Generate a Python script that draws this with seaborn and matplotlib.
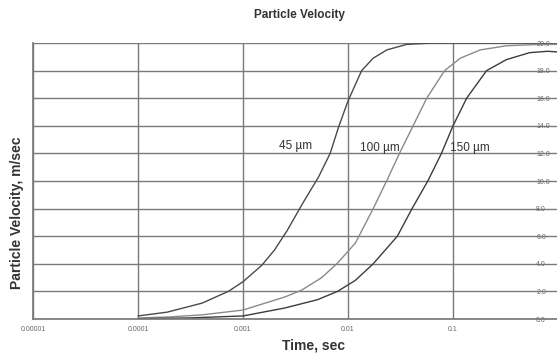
#!/usr/bin/env python3
"""Particle velocity vs time for three particle sizes."""

import matplotlib

matplotlib.use("Agg")
import matplotlib.pyplot as plt
import numpy as np
import pandas as pd
import seaborn as sns

# log10(time, sec) and velocity (m/sec)
t45 = [-4.0, -3.72, -3.39, -3.14, -3.0, -2.82, -2.70, -2.58, -2.43, -2.28, -2.17, -2.09, -2.0,
       -1.87, -1.76, -1.63, -1.44, -1.2, 0.0]
v45 = [0.22, 0.5, 1.15, 2.0, 2.7, 3.9, 5.0, 6.4, 8.4, 10.3, 12.0, 13.9, 15.8,
       18.0, 18.9, 19.5, 19.9, 20.0, 20.0]

t100 = [-4.0, -3.7, -3.39, -3.0, -2.6, -2.44, -2.25, -2.10, -1.93, -1.76, -1.62, -1.51, -1.38,
        -1.25, -1.08, -0.93, -0.74, -0.49, -0.17, 0.0]
v100 = [0.07, 0.15, 0.3, 0.65, 1.6, 2.1, 3.0, 4.05, 5.5, 8.0, 10.2, 12.0, 14.0,
        16.0, 18.0, 18.9, 19.5, 19.8, 19.9, 19.9]

t150 = [-4.0, -3.5, -3.0, -2.6, -2.29, -2.10, -1.93, -1.76, -1.53, -1.39, -1.24, -1.11, -1.0,
        -0.87, -0.68, -0.49, -0.27, -0.10, 0.0]
v150 = [0.02, 0.08, 0.22, 0.8, 1.4, 2.0, 2.8, 4.0, 6.0, 8.0, 10.0, 12.0, 14.0,
        16.0, 18.0, 18.8, 19.3, 19.4, 19.35]

sizes = ["45 µm", "100 µm", "150 µm"]
x_ticks = [0.00001, 0.0001, 0.001, 0.01, 0.1]
x_tick_labels = ["0.00001", "0.0001", "0.001", "0.01", "0.1"]
y_ticks = [0, 2, 4, 6, 8, 10, 12, 14, 16, 18, 20]


def build_frame() -> pd.DataFrame:
    parts = []
    for name, t, v in zip(sizes, [t45, t100, t150], [v45, v100, v150]):
        parts.append(pd.DataFrame({"time": 10 ** np.array(t), "velocity": v, "size": name}))
    return pd.concat(parts, ignore_index=True)


def main() -> None:
    df = build_frame()

    sns.set_theme(style="white")
    plt.rcParams["font.family"] = ["Liberation Sans", "DejaVu Sans"]

    fig = plt.figure(figsize=(5.57, 3.58), dpi=100)
    ax = fig.add_axes([33 / 557, 39 / 358, 524 / 557, 276 / 358])

    sns.lineplot(
        data=df,
        x="time",
        y="velocity",
        hue="size",
        hue_order=sizes,
        palette=["#4a4a4a", "#8a8a8a", "#3c3c3c"],
        linewidth=1.0,
        legend=False,
        ax=ax,
    )

    ax.set_xscale("log")
    ax.set_xlim(1e-5, 10 ** (-5 + 524 / 105))
    ax.set_ylim(0, 20)

    ax.set_xticks(x_ticks)
    ax.set_xticklabels(x_tick_labels)
    ax.xaxis.set_minor_locator(matplotlib.ticker.NullLocator())
    ax.set_yticks(y_ticks)
    ax.set_yticklabels([f"{v:.1f}" for v in y_ticks])

    ax.grid(True, which="major", color="#7a7a7a", linewidth=1.0)
    ax.set_axisbelow(True)
    for side in ["top", "right"]:
        ax.spines[side].set_visible(False)
    ax.spines["left"].set_color("#7a7a7a")
    ax.spines["bottom"].set_color("#7a7a7a")

    ax.tick_params(axis="x", length=0, pad=5, labelsize=5, labelcolor="#666666")
    ax.tick_params(
        axis="y", length=0, labelsize=5, labelcolor="#666666",
        labelleft=False, labelright=True, pad=-15,
    )

    ax.set_xlabel("")
    ax.set_ylabel("")
    fig.text(314 / 557, 1 - 345 / 358, "Time, sec", ha="center", va="center",
             fontsize=10, fontweight="bold", color="#333333")
    fig.text(17 / 557, 1 - 213 / 358, "Particle Velocity, m/sec", ha="center", va="center",
             rotation=90, fontsize=10, fontweight="bold", color="#333333")
    fig.text(299 / 557, 1 - 15 / 358, "Particle Velocity", ha="center", va="center",
             fontsize=8.5, fontweight="bold", color="#333333")

    label_pos = [(-2.50, 12.5), (-1.70, 12.4), (-0.84, 12.4)]
    for name, (lx, ly) in zip(sizes, label_pos):
        ax.text(10 ** lx, ly, name, ha="center", va="center", fontsize=8.5, color="#333333")

    fig.savefig("out.png", dpi=100)


if __name__ == "__main__":
    main()
